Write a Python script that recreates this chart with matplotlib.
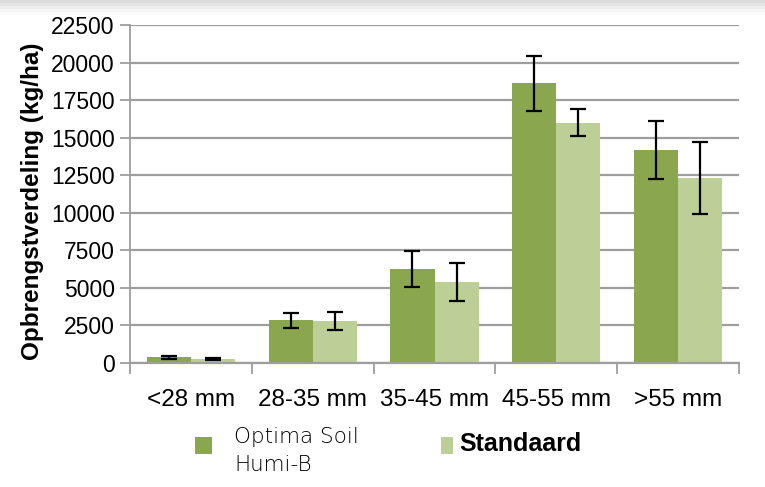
import matplotlib
matplotlib.use("Agg")
import matplotlib.pyplot as plt
import numpy as np
from matplotlib.patches import Rectangle

categories = ["<28 mm", "28-35 mm", "35-45 mm", "45-55 mm", ">55 mm"]
series_names = ["Optima Soil\nHumi-B", "Standaard"]
optima = [380, 2860, 6260, 18620, 14180]
optima_err = [110, 500, 1180, 1830, 1900]
standaard = [250, 2800, 5400, 16000, 12300]
standaard_err = [70, 580, 1240, 910, 2380]
yticks = [0, 2500, 5000, 7500, 10000, 12500, 15000, 17500, 20000, 22500]
ylabel = "Opbrengstverdeling (kg/ha)"

c_dark = "#8AA64E"
c_light = "#BBCF96"
grid_c = "#9E9E9E"
narrow = ["Liberation Sans Narrow", "Liberation Sans"]

W, H = 765, 487
fig = plt.figure(figsize=(W / 100, H / 100), dpi=100)
ax = fig.add_axes([0.170, 0.2546, 0.796, 0.694])

x = np.arange(len(categories))
w = 0.362
ax.bar(x - w/2, optima, w, color=c_dark, zorder=2)
ax.bar(x + w/2, standaard, w, color=c_light, zorder=2)
ek = dict(fmt="none", ecolor="black", elinewidth=1.6, capsize=5.5, capthick=1.6, zorder=3)
ax.errorbar(x - w/2, optima, yerr=optima_err, **ek)
ax.errorbar(x + w/2, standaard, yerr=standaard_err, **ek)

ax.set_xlim(-0.5, len(categories) - 0.5)
ax.set_ylim(0, 22500)
ax.set_yticks(yticks)
ax.set_yticklabels([str(v) for v in yticks], fontsize=16.5, family=narrow)
ax.yaxis.grid(True, color=grid_c, linewidth=1.6, zorder=0)
ax.set_axisbelow(True)

ax.set_xticks(x)
ax.set_xticklabels(categories, fontsize=17.5, family=narrow)
ax.set_xticks(np.arange(-0.5, len(categories)), minor=True)
ax.tick_params(axis="x", which="major", length=0, pad=19)
ax.tick_params(axis="x", which="minor", length=8, width=1.3, color=grid_c)
ax.tick_params(axis="y", length=7, width=1.3, color=grid_c, pad=4)

for s in ["top", "right"]:
    ax.spines[s].set_visible(False)
ax.spines["left"].set_color(grid_c)
ax.spines["left"].set_linewidth(1.3)
ax.spines["bottom"].set_color(grid_c)
ax.spines["bottom"].set_linewidth(1.6)

ax.set_ylabel(ylabel, fontsize=17.5, fontweight="bold", family=narrow)
ax.yaxis.set_label_coords(-0.142, 0.48)

# legend (drawn manually in figure pixel coordinates)
def px(xp, yp):
    return xp / W, 1 - yp / H

fig.patches.append(Rectangle(px(195, 454), 17 / W, 17 / H, transform=fig.transFigure,
                             facecolor=c_dark, edgecolor="none"))
fig.patches.append(Rectangle(px(441, 454), 12 / W, 17 / H, transform=fig.transFigure,
                             facecolor=c_light, edgecolor="none"))
fig.text(*px(234, 451), series_names[0], family="DejaVu Sans", fontweight="light",
         fontsize=15.5, va="center", ha="left", linespacing=1.45, color="black")
fig.text(*px(459, 451), series_names[1], family=narrow, fontweight="bold",
         fontsize=18, va="baseline", ha="left")

# subtle shadow at top border
for i, a in enumerate([0.28, 0.2, 0.13, 0.07, 0.03]):
    fig.patches.append(Rectangle((0, 1 - 0.006 * (i + 1)), 1, 0.006,
                                 transform=fig.transFigure, facecolor="#808080",
                                 alpha=a, edgecolor="none", zorder=0))

fig.savefig("out.png", dpi=100)
